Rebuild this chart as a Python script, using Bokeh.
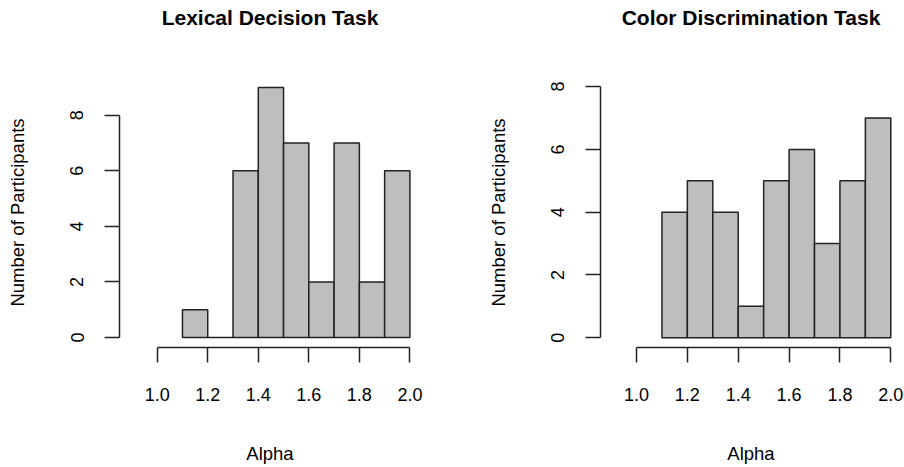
from bokeh.plotting import figure
from bokeh.layouts import row
from bokeh.models import Range1d, FixedTicker, Title
from bokeh.embed import file_html
from bokeh.resources import INLINE

# Histogram data (bin edges and counts)
bin_left = [1.1, 1.2, 1.3, 1.4, 1.5, 1.6, 1.7, 1.8, 1.9]
bin_right = [1.2, 1.3, 1.4, 1.5, 1.6, 1.7, 1.8, 1.9, 2.0]
lexical_counts = [1, 0, 6, 9, 7, 2, 7, 2, 6]
color_counts = [4, 5, 4, 1, 5, 6, 3, 5, 7]
x_ticks = [1.0, 1.2, 1.4, 1.6, 1.8, 2.0]
y_ticks_lex = [0, 2, 4, 6, 8]
y_ticks_col = [0, 2, 4, 6, 8]
titles = ["Lexical Decision Task", "Color Discrimination Task"]

FONT = "Liberation Sans"
LINE = "#222222"
FRAME_TOP = 77
FRAME_H = 270


def make_panel(title, counts, yticks, x_rng, y_rng, mbl, mbr):
    p = figure(width=452, height=467, output_backend="svg", toolbar_location=None,
               x_range=Range1d(*x_rng), y_range=Range1d(*y_rng),
               min_border_left=mbl, min_border_right=mbr,
               min_border_top=FRAME_TOP, min_border_bottom=467 - FRAME_TOP - FRAME_H)
    p.outline_line_color = None
    p.grid.visible = False
    p.background_fill_color = "white"
    p.border_fill_color = "white"

    p.quad(left=bin_left, right=bin_right, bottom=0, top=counts,
           fill_color="#BEBEBE", line_color=LINE, line_width=1.5)

    # blank spacer between frame and title, then the real title further out
    spacer = Title(text=" ", text_font=FONT, text_font_size="21px", standoff=24)
    p.add_layout(spacer, "above")
    t = Title(text=title, align="center", text_font=FONT, text_font_size="21px",
              text_font_style="bold", text_color="#000000", standoff=0)
    p.add_layout(t, "above")

    for ax in (p.xaxis[0], p.yaxis[0]):
        ax.axis_line_color = LINE
        ax.axis_line_width = 1.5
        ax.major_tick_line_color = LINE
        ax.major_tick_line_width = 1.5
        ax.major_tick_out = 15
        ax.major_tick_in = 0
        ax.minor_tick_line_color = None
        ax.major_label_text_font = FONT
        ax.major_label_text_font_size = "18px"
        ax.major_label_text_color = "#000000"
        ax.axis_label_text_font = FONT
        ax.axis_label_text_font_size = "18.5px"
        ax.axis_label_text_font_style = "normal"
        ax.axis_label_text_color = "#000000"

    xa = p.xaxis[0]
    xa.ticker = FixedTicker(ticks=x_ticks)
    xa.bounds = (x_ticks[0], x_ticks[-1])
    xa.major_label_overrides = {v: f"{v:.1f}" for v in x_ticks}
    xa.major_label_standoff = 25
    xa.axis_label = "Alpha"
    xa.axis_label_standoff = 39

    ya = p.yaxis[0]
    ya.ticker = FixedTicker(ticks=yticks)
    ya.bounds = (yticks[0], yticks[-1])
    ya.major_label_orientation = "vertical"
    ya.major_label_standoff = 21
    ya.axis_label = "Number of Participants"
    ya.axis_label_standoff = 40
    return p


p1 = make_panel(titles[0], lexical_counts, y_ticks_lex,
                (0.8508, 2.0419), (-0.36, 9.36), 119, 32)
p2 = make_panel(titles[1], color_counts, y_ticks_col,
                (0.8584, 2.0421), (-0.31, 8.29), 148, 3)

layout = row(p1, p2)
open("out.html", "w").write(file_html(layout, INLINE))
